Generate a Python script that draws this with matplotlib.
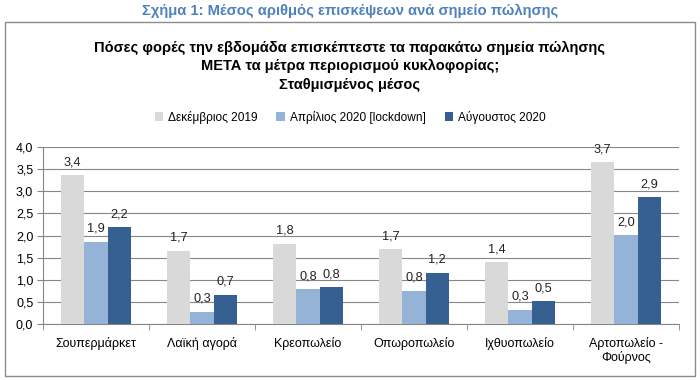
import matplotlib
matplotlib.use("Agg")
import matplotlib.pyplot as plt
from matplotlib.patches import Rectangle
import numpy as np

categories = ["Σουπερμάρκετ", "Λαϊκή αγορά", "Κρεοπωλείο", "Οπωροπωλείο",
              "Ιχθυοπωλείο", "Αρτοπωλείο -\nΦούρνος"]
series_names = ["Δεκέμβριος 2019", "Απρίλιος 2020 [lockdown]", "Αύγουστος 2020"]
dec2019 = [3.36, 1.66, 1.81, 1.69, 1.39, 3.66]
apr2020 = [1.86, 0.28, 0.79, 0.75, 0.32, 2.01]
aug2020 = [2.19, 0.66, 0.83, 1.16, 0.51, 2.86]
colors = ["#D9D9D9", "#95B3D7", "#376092"]
yticks = [0.0, 0.5, 1.0, 1.5, 2.0, 2.5, 3.0, 3.5, 4.0]

regular = ["Liberation Sans", "DejaVu Sans"]
plt.rcParams["font.family"] = regular

W, H = 700, 380
fig = plt.figure(figsize=(W / 100, H / 100), dpi=100)

def fx(px):
    return px / W

def fy(py):
    return 1 - py / H

# outer frame
fig.patches.append(Rectangle((fx(5), fy(376)), fx(690), (376 - 22) / H,
                             transform=fig.transFigure, fill=False,
                             edgecolor="#8C8C8C", linewidth=1.0))

fig.text(0.5, fy(11), "Σχήμα 1: Μέσος αριθμός επισκέψεων ανά σημείο πώλησης",
         ha="center", va="center", color="#4F81BD", fontsize=10.6,
         fontweight="bold")
fig.text(0.5, fy(66),
         "Πόσες φορές την εβδομάδα επισκέπτεστε τα παρακάτω σημεία πώλησης\n"
         "ΜΕΤΑ τα μέτρα περιορισμού κυκλοφορίας;\nΣταθμισμένος μέσος",
         ha="center", va="center", color="black", fontsize=10.5,
         fontweight="bold", linespacing=1.4)

ax = fig.add_axes([fx(43), fy(324), fx(679 - 43), (324 - 147) / H])
x = np.arange(len(categories))
bw = 0.22
for i, (vals, c, name) in enumerate(zip([dec2019, apr2020, aug2020], colors, series_names)):
    bars = ax.bar(x + (i - 1) * bw, vals, width=bw, color=c, label=name, zorder=3)
    for b, v in zip(bars, vals):
        ax.annotate(f"{v:.1f}".replace(".", ","),
                    (b.get_x() + b.get_width() / 2, v),
                    xytext=(0, 5), textcoords="offset points",
                    ha="center", va="bottom", fontsize=9.2, color="#222222")

ax.set_xlim(-0.5, len(categories) - 0.5)
ax.set_ylim(0, 4.0)
ax.set_yticks(yticks)
ax.set_yticklabels([f"{t:.1f}".replace(".", ",") for t in yticks], fontsize=9)
ax.set_xticks(x)
ax.set_xticklabels(categories, fontsize=9)
ax.set_xticks(np.arange(-0.5, len(categories), 1.0), minor=True)
ax.tick_params(axis="x", which="major", length=0, pad=9)
ax.tick_params(axis="x", which="minor", length=4, color="#868686")
ax.tick_params(axis="y", length=4, color="#868686", pad=3)
ax.grid(axis="y", color="#868686", linewidth=0.8, zorder=0)
ax.set_axisbelow(True)
for s in ["top", "right"]:
    ax.spines[s].set_visible(False)
for s in ["left", "bottom"]:
    ax.spines[s].set_color("#868686")

handles, labels = ax.get_legend_handles_labels()
fig.legend(handles, labels, loc="center", bbox_to_anchor=(0.5, fy(117)),
           ncol=3, frameon=False, prop={"size": 8.6},
           handlelength=0.7, handleheight=0.7, columnspacing=1.6, handletextpad=0.4)

fig.savefig("out.png", dpi=100)
